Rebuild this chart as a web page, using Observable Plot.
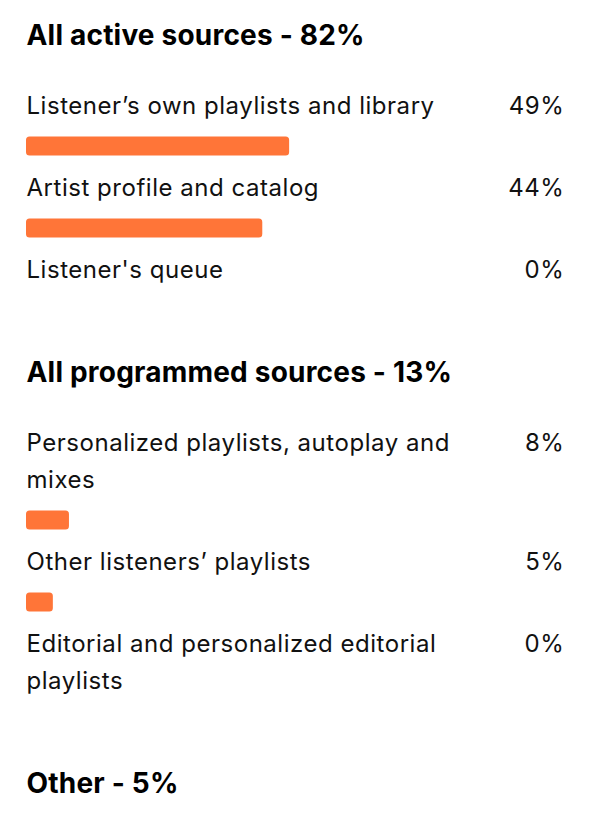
<!DOCTYPE html>
<html>
<head>
<meta charset="utf-8">
<script src="https://cdn.jsdelivr.net/npm/d3@7"></script>
<script src="https://cdn.jsdelivr.net/npm/@observablehq/plot@0.6"></script>
<style>
  html, body { margin: 0; padding: 0; background: #ffffff; }
  #chart svg { display: block; }
</style>
</head>
<body>
<div id="chart"></div>
<script>
// ---- Data ----
const sectionTitles = ["All active sources - 82%", "All programmed sources - 13%", "Other - 5%"];
const itemSection = [0, 0, 0, 1, 1, 1];
const itemLabels = [
  "Listener’s own playlists and library",
  "Artist profile and catalog",
  "Listener's queue",
  "Personalized playlists, autoplay and\nmixes",
  "Other listeners’ playlists",
  "Editorial and personalized editorial\nplaylists"
];
const itemValues = [49, 44, 0, 8, 5, 0];

// ---- Layout (vertical slots) ----
const GAP_TITLE_TO_ITEM = 70, LINE = 37, TEXT_TO_BAR = 40, BAR_TO_TEXT = 42, BAR_TO_TITLE = 63, BAR_H = 19;
const titleRows = [], labelRows = [], valueRows = [], barRows = [];
let cursor = 36;
sectionTitles.forEach((t, s) => {
  titleRows.push({text: t, y: cursor});
  const items = itemLabels.map((l, i) => i).filter(i => itemSection[i] === s);
  if (!items.length) return;
  cursor += GAP_TITLE_TO_ITEM;
  items.forEach((i, k) => {
    const lines = itemLabels[i].split("\n");
    valueRows.push({text: itemValues[i] + "%", y: cursor});
    lines.forEach((ln, j) => {
      labelRows.push({text: ln, y: cursor});
      if (j < lines.length - 1) cursor += LINE;
    });
    cursor += TEXT_TO_BAR;
    barRows.push({value: itemValues[i], y1: cursor - BAR_H / 2, y2: cursor + BAR_H / 2});
    cursor += (k < items.length - 1) ? BAR_TO_TEXT : BAR_TO_TITLE;
  });
});

const W = 590, H = 840;
const FONT = "Inter, 'Noto Sans', sans-serif";
const chart = Plot.plot({
  width: W,
  height: H,
  marginLeft: 26,
  marginRight: 27,
  marginTop: 0,
  marginBottom: 0,
  style: {background: "#ffffff", overflow: "visible"},
  x: {domain: [0, 100], axis: null},
  y: {domain: [0, H], range: [0, H], axis: null},
  marks: [
    Plot.rect(barRows.filter(d => d.value > 0), {
      x1: 0, x2: "value", y1: "y1", y2: "y2",
      fill: "#ff7538", rx: 3.5
    }),
    Plot.text(titleRows, {
      x: 0, y: "y", text: "text", textAnchor: "start",
      fontSize: 28, fontWeight: 700, fill: "#000",
      fontFamily: FONT
    }),
    Plot.text(labelRows, {
      x: 0, y: "y", text: "text", textAnchor: "start",
      fontSize: 24, fill: "#111",
      fontFamily: FONT
    }),
    Plot.text(valueRows, {
      x: 100, y: "y", text: "text", textAnchor: "end", dx: 1,
      fontSize: 24, fill: "#111",
      fontFamily: FONT
    })
  ]
});
// letter-spacing per text layer (title, label, value), in mark order
const spacing = ["0.2px", "0.53px", "0.6px"];
d3.select(chart).selectAll('g[aria-label="text"]').each(function(_, i) {
  d3.select(this).style("letter-spacing", spacing[i]);
});
document.getElementById("chart").appendChild(chart);
</script>
</body>
</html>
